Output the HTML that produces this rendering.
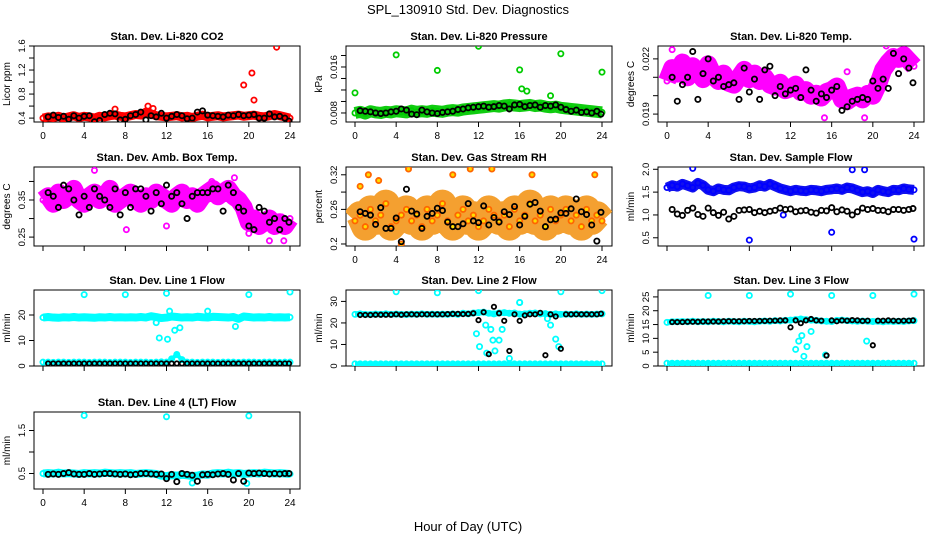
<!DOCTYPE html>
<html><head><meta charset="utf-8">
<style>
body{margin:0;background:#fff;width:936px;height:540px;overflow:hidden;font-family:"Liberation Sans",sans-serif}
svg text{font-family:"Liberation Sans",sans-serif}
</style></head>
<body>
<svg id="c" width="936" height="540" xmlns="http://www.w3.org/2000/svg">
<text x="468" y="14" text-anchor="middle" font-size="13">SPL_130910  Std. Dev. Diagnostics</text>
<text x="468" y="531" text-anchor="middle" font-size="13">Hour of Day (UTC)</text>
</svg>
<script>
const hours = [0,0.5,1,1.5,2,2.5,3,3.5,4,4.5,5,5.5,6,6.5,7,7.5,8,8.5,9,9.5,10,10.5,11,11.5,12,12.5,13,13.5,14,14.5,15,15.5,16,16.5,17,17.5,18,18.5,19,19.5,20,20.5,21,21.5,22,22.5,23,23.5,24];
const blackHours = [0.5,1,1.5,2,2.5,3,3.5,4,4.5,5,5.5,6,6.5,7,7.5,8,8.5,9,9.5,10,10.5,11,11.5,12,12.5,13,13.5,14,14.5,15,15.5,16,16.5,17,17.5,18,18.5,19,19.5,20,20.5,21,21.5,22,22.5,23,23.5,23.9];
const xTicks = [0,4,8,12,16,20,24];

const co2Vals = [0.40,0.42,0.41,0.43,0.40,0.42,0.44,0.41,0.43,0.42,0.40,0.43,0.42,0.44,0.45,0.43,0.42,0.44,0.46,0.45,0.50,0.47,0.44,0.43,0.42,0.43,0.44,0.42,0.43,0.41,0.43,0.45,0.42,0.43,0.44,0.42,0.43,0.44,0.45,0.43,0.44,0.45,0.43,0.42,0.44,0.46,0.44,0.42,0.40];
const co2Black = [0.42,0.45,0.41,0.43,0.38,0.44,0.40,0.43,0.44,0.34,0.36,0.46,0.48,0.47,0.37,0.38,0.44,0.46,0.50,0.37,0.44,0.42,0.48,0.40,0.43,0.46,0.44,0.39,0.40,0.50,0.52,0.45,0.44,0.43,0.42,0.45,0.44,0.46,0.44,0.45,0.46,0.40,0.40,0.47,0.42,0.43,0.40,0.35];
const co2OutH = [7,10.2,10.7,19.5,20.3,20.5,22.7];
const co2OutV = [0.55,0.6,0.56,0.95,1.15,0.7,1.58];

const presVals = [0.0080,0.0082,0.0079,0.0083,0.0081,0.0080,0.0082,0.0081,0.0083,0.0082,0.0081,0.0084,0.0082,0.0083,0.0082,0.0084,0.0083,0.0082,0.0084,0.0085,0.0084,0.0086,0.0087,0.0088,0.0089,0.0090,0.0091,0.0092,0.0091,0.0093,0.0094,0.0093,0.0092,0.0093,0.0094,0.0092,0.0093,0.0091,0.0090,0.0091,0.0089,0.0088,0.0087,0.0086,0.0085,0.0084,0.0083,0.0082,0.0081];
const presBlack = [0.0084,0.0083,0.0082,0.0080,0.0079,0.0080,0.0082,0.0083,0.0087,0.0085,0.0078,0.0077,0.0085,0.0082,0.0080,0.0079,0.0081,0.0082,0.0083,0.0086,0.0087,0.0089,0.0090,0.0091,0.0092,0.0090,0.0091,0.0093,0.0092,0.0087,0.0094,0.0095,0.0091,0.0093,0.0094,0.0090,0.0093,0.0092,0.0094,0.0090,0.0086,0.0083,0.0085,0.0081,0.0082,0.0080,0.0083,0.0078];
const presOutH = [0,4,8,12,16,16.2,16.7,19,20,24];
const presOutV = [0.0115,0.0181,0.0154,0.0196,0.0155,0.0122,0.0118,0.0110,0.0183,0.0151];

const tempVals = [0.0208,0.0215,0.0212,0.0218,0.0210,0.0216,0.0213,0.0209,0.0217,0.0211,0.0208,0.0212,0.0207,0.0206,0.0210,0.0214,0.0209,0.0212,0.0208,0.0210,0.0206,0.0205,0.0207,0.0203,0.0204,0.0206,0.0202,0.0203,0.0200,0.0201,0.0199,0.0202,0.0203,0.0205,0.0198,0.0197,0.0199,0.0200,0.0198,0.0201,0.0200,0.0206,0.0214,0.0218,0.0221,0.0220,0.0222,0.0219,0.0216];
const tempBlack = [0.0210,0.0197,0.0206,0.0210,0.0224,0.0198,0.0212,0.0220,0.0208,0.0210,0.0205,0.0206,0.0207,0.0198,0.0215,0.0202,0.0209,0.0198,0.0214,0.0216,0.0200,0.0205,0.0201,0.0203,0.0204,0.0199,0.0214,0.0203,0.0197,0.0201,0.0199,0.0203,0.0205,0.0192,0.0194,0.0197,0.0198,0.0199,0.0198,0.0208,0.0204,0.0209,0.0204,0.0223,0.0212,0.0220,0.0215,0.0207];
const tempOutH = [0.5,15.3,19.2,21.3,17.5];
const tempOutV = [0.0225,0.0188,0.0188,0.0227,0.0213];

const ambVals = [0.35,0.36,0.34,0.37,0.35,0.36,0.38,0.35,0.34,0.36,0.37,0.35,0.36,0.38,0.34,0.35,0.36,0.37,0.35,0.34,0.36,0.35,0.37,0.36,0.35,0.34,0.36,0.37,0.35,0.36,0.34,0.36,0.37,0.38,0.36,0.37,0.38,0.36,0.35,0.33,0.29,0.30,0.28,0.29,0.30,0.28,0.29,0.28,0.30];
const ambBlack = [0.37,0.36,0.33,0.39,0.38,0.35,0.31,0.36,0.33,0.38,0.36,0.35,0.33,0.38,0.31,0.37,0.33,0.38,0.38,0.36,0.32,0.37,0.34,0.39,0.36,0.37,0.34,0.30,0.36,0.37,0.37,0.37,0.38,0.38,0.32,0.39,0.37,0.33,0.32,0.28,0.27,0.33,0.32,0.29,0.30,0.27,0.30,0.29];
const ambOutH = [5,8.1,12,18.6,16.4,20,22,23.4];
const ambOutV = [0.43,0.27,0.28,0.41,0.40,0.26,0.24,0.24];

const rhVals = [0.24,0.25,0.23,0.26,0.24,0.25,0.27,0.23,0.24,0.25,0.26,0.24,0.25,0.23,0.26,0.24,0.25,0.27,0.24,0.23,0.25,0.26,0.24,0.25,0.23,0.24,0.26,0.25,0.24,0.25,0.23,0.26,0.24,0.25,0.27,0.24,0.25,0.23,0.26,0.24,0.25,0.26,0.24,0.25,0.23,0.26,0.24,0.25,0.24];
const rhBlack = [0.256,0.253,0.250,0.234,0.263,0.227,0.227,0.245,0.204,0.295,0.257,0.252,0.227,0.248,0.253,0.262,0.258,0.238,0.23,0.23,0.235,0.270,0.240,0.237,0.266,0.233,0.246,0.238,0.256,0.251,0.265,0.233,0.248,0.269,0.272,0.257,0.23,0.242,0.243,0.254,0.253,0.261,0.278,0.256,0.251,0.233,0.205,0.255];
const rhOutH = [0.5,1.3,2.3,4.5,5.2,9.5,11.2,13.3,17.2,23.3];
const rhOutV = [0.30,0.32,0.31,0.20,0.33,0.32,0.33,0.33,0.32,0.32];

const sfVals = [1.60,1.65,1.62,1.68,1.64,1.60,1.70,1.65,1.55,1.52,1.58,1.55,1.54,1.60,1.63,1.62,1.58,1.60,1.65,1.62,1.68,1.63,1.58,1.55,1.52,1.55,1.53,1.52,1.55,1.54,1.52,1.55,1.56,1.58,1.55,1.60,1.58,1.54,1.50,1.52,1.48,1.55,1.52,1.50,1.55,1.54,1.58,1.56,1.55];
const sfBlack = [1.12,1.02,0.99,1.10,1.15,1.01,0.97,1.15,1.05,0.99,1.06,0.91,0.97,1.10,1.11,1.12,1.05,1.08,1.05,1.08,1.10,1.15,1.12,1.13,1.07,1.09,1.10,1.06,1.04,1.10,1.09,1.16,1.07,1.11,1.08,1.00,1.07,1.15,1.12,1.14,1.10,1.10,1.07,1.12,1.12,1.10,1.12,1.14];
const sfOutH = [2.5,8,11.3,16,18,19.2,24];
const sfOutV = [2.02,0.45,1.00,0.62,1.99,1.99,0.47];

const l1Vals = [19,19.2,19,18.9,19.1,19,19.2,19,19.1,19,18.9,19.1,19,19.2,19,19.1,19,19.1,19,19.2,19,19.5,19.2,18.8,19,19.4,19.2,19,19.1,19,19.3,19.1,19,19.3,19.2,19.1,19,19.2,18.5,19.4,19.2,19,19.1,19,19.2,19,19.1,19,19.1];
const l1Low = [1.5,1.5,1.4,1.5,1.5,1.4,1.5,1.5,1.5,1.4,1.5,1.5,1.5,1.4,1.5,1.5,1.5,1.4,1.5,1.5,1.5,1.4,1.5,1.6,1.5,2.8,4.5,2.5,1.5,1.5,1.4,1.5,1.5,1.5,1.4,1.5,1.5,1.5,1.4,1.5,1.5,1.5,1.4,1.5,1.5,1.5,1.4,1.5,1.5];
const l1Black = [1,1,1,1,1,1,1,1,1,1,1,1,1,1,1,1,1,1,1,1,1,1,1,1,1,1,1,1,1,1,1,1,1,1,1,1,1,1,1,1,1,1,1,1,1,1,1,1];
const l1OutH = [4,8,12,20,24,11.3,12.1,12.3,11,13.3,12.8,18.7,16];
const l1OutV = [28,28,28.5,28,29,11,10.5,21.5,17,15,14,15.5,21.5];

const l2Vals = [24,24.2,24,23.9,24.1,24,24.2,24,24.1,24,23.9,24.1,24,24.2,24,24.1,24,24.1,24,24.2,24,24.5,24.2,24.6,24.8,25,24.5,24.2,24.6,24.8,24.5,24.6,24.1,24.2,24.5,24.6,24.2,24.3,24,24.2,24,24.1,24,24.2,24,24.1,24,24.1,24.2];
const l2Low = [1,1,1,1,1,1,1,1,1,1,1,1,1,1,1,1,1,1,1,1,1,1,1,1,1,1,1,1,1,1,1,1,1,1,1,1,1,1,1,1,1,1,1,1,1,1,1,1,1];
const l2Black = [23.7,23.7,23.7,23.8,23.8,23.8,23.8,24,23.8,24,24,23.9,24,24,24,24,24,24.1,24.2,24.2,24.1,24.2,24.5,21.3,25,5.5,27.5,24.5,21,7,24,21,23.5,24,24,24.7,5,24,23,8,24,24,24,24,24,24,24,24.3];
const l2OutH = [4,8,12,16,20,24,11.8,12.7,13.2,13.4,13.6,14,14.3,12.1,12.8,15,16,18.7,19,19.5,19.8];
const l2OutV = [34.5,34,35,29.5,34.5,35,15,19,17,12,7,12,17,9,6,3.5,29.5,22,19,12.5,9];

const l3Vals = [15.8,16,16,16.1,16,16.2,16,16.1,16,16.2,16.1,16,16.2,16.1,16,16.2,16.1,16,16.2,16.3,16.2,16.4,16.3,16.5,16.6,16.8,17,16.8,16.6,16.5,16.3,16.2,16.1,16.5,16.6,16.4,16.3,16.2,16.3,16.2,16.1,16.2,16,16.2,16.1,16.2,16.1,16.3,16.4];
const l3Low = [1,1,1,1,1,1,1,1,1,1,1,1,1,1,1,1,1,1,1,1,1,1,1,1,1,1,1,1,1,1,1,1,1,1,1,1,1,1,1,1,1,1,1,1,1,1,1,1,1];
const l3Black = [15.9,15.9,15.9,16,16,16,16.1,16.1,16.1,16.1,16.2,16.2,16.2,16.2,16.2,16.3,16.3,16.3,16.3,16.4,16.4,16.5,16.5,14,16.5,15.5,16.5,17,16.5,16.4,3.8,16.5,16.2,16.5,16.4,16.6,16.5,16.3,16.4,7.5,16.4,16.4,16.5,16.4,16.3,16.4,16.4,16.5];
const l3OutH = [4,8,12,16,20,24,12.5,12.8,13.1,13.3,13.6,14,15.4,19.4];
const l3OutV = [25.5,25.5,26,25.5,25.5,26,6,9,11,3.5,7,12.5,4,9];

const l4Vals = [0.50,0.51,0.50,0.52,0.50,0.51,0.50,0.49,0.51,0.50,0.51,0.50,0.52,0.51,0.50,0.51,0.50,0.51,0.49,0.50,0.51,0.50,0.49,0.45,0.44,0.46,0.45,0.47,0.46,0.44,0.45,0.48,0.47,0.50,0.51,0.50,0.52,0.50,0.51,0.49,0.50,0.51,0.50,0.52,0.51,0.50,0.51,0.50,0.49];
const l4Black = [0.48,0.49,0.48,0.50,0.52,0.49,0.48,0.48,0.50,0.48,0.49,0.50,0.50,0.49,0.48,0.49,0.47,0.48,0.50,0.50,0.49,0.48,0.49,0.38,0.48,0.31,0.50,0.48,0.46,0.32,0.47,0.48,0.47,0.49,0.50,0.48,0.35,0.50,0.32,0.51,0.50,0.51,0.50,0.49,0.50,0.49,0.50,0.50];
const l4OutH = [4,12,20,14.5,19.8];
const l4OutV = [1.85,1.82,1.84,0.28,0.27];

const svg = document.getElementById('c');
const NS = 'http://www.w3.org/2000/svg';
function mk(tag, attrs, parent){
  const e = document.createElementNS(NS, tag);
  for (const k in attrs) e.setAttribute(k, attrs[k]);
  (parent||svg).appendChild(e);
  return e;
}

function panel(cfg){
  const g = mk('g', {});
  
  
  const x0 = cfg.x0, x1 = x0 + 266, yt = cfg.yt, yb = cfg.yb;
  const xs = h => x0 + 9 + h * (247 / 24);
  const ys = v => yb - (v - cfg.ymin) / (cfg.ymax - cfg.ymin) * (yb - yt);
  const box = mk('rect', {x: x0, y: yt, width: x1 - x0, height: yb - yt, fill: 'none', stroke: '#000', 'stroke-width': 1}, g);
  
  
  const t = mk('text', {x: (x0 + x1) / 2, y: yt - 6, 'text-anchor': 'middle', 'font-size': 11, 'font-weight': 'bold'}, g);
  t.textContent = cfg.title;
  
  
  xTicks.forEach(h => {
    mk('line', {x1: xs(h), x2: xs(h), y1: yb, y2: yb + 5, stroke: '#000'}, g);
    if (cfg.xlabels) {
      const l = mk('text', {x: xs(h), y: yb + 17, 'text-anchor': 'middle', 'font-size': 10}, g);
      l.textContent = h;
      
      
    }
  });
  cfg.yticks.forEach(v => {
    mk('line', {x1: x0, x2: x0 - 5, y1: ys(v), y2: ys(v), stroke: '#000'}, g);
  });
  cfg.ylabels.forEach(v => {
    const l = mk('text', {x: x0 - 9, y: ys(v), 'text-anchor': 'middle', 'font-size': 9.5, transform: `rotate(-90 ${x0 - 9} ${ys(v)})`}, g);
    l.textContent = v;
    
    
  });
  const yl = mk('text', {x: x0 - 24, y: (yt + yb) / 2, 'text-anchor': 'middle', 'font-size': 10, transform: `rotate(-90 ${x0 - 24} ${(yt + yb) / 2})`}, g);
  yl.textContent = cfg.ylab;
  
  
  const clip = 'clip-' + cfg.name;
  const cp = mk('clipPath', {id: clip}, g);
  mk('rect', {x: x0, y: yt, width: x1 - x0, height: yb - yt}, cp);
  const pg = mk('g', {'clip-path': `url(#${clip})`}, g);
  function band(vals, color, w){
    const pts = hours.map((h, i) => xs(h) + ',' + ys(vals[i])).join(' ');
    const pl = mk('polyline', {points: pts, fill: 'none', stroke: color, 'stroke-width': w, 'stroke-linejoin': 'round', 'stroke-linecap': 'butt'}, pg);
    
    
  }
  function pts(hs, vals, color, fill, r){
    vals.forEach((v, i) => {
      const c = mk('circle', {cx: xs(hs[i]), cy: ys(v), r: r, fill: fill, stroke: color, 'stroke-width': 1.8}, pg);
      
      
    });
  }
  cfg.series.forEach(s => {
    if (s.band) band(s.vals, s.band, s.bw);
    pts(s.hours, s.vals, s.color, s.fill || 'none', s.r || 2.6);
  });
}

const C = [34, 346, 658];
const R = [[46,122],[167,246],[290,366],[412,489]];

panel({name:'co2', title:'Stan. Dev. Li-820 CO2', x0:C[0], yt:R[0][0], yb:R[0][1], ymin:0.335, ymax:1.6, yticks:[0.4,0.6,0.8,1.0,1.2,1.4,1.6], ylabels:[0.4,0.8,1.2,1.6], ylab:'Licor ppm', xlabels:true,
  series:[{hours:hours, vals:co2Vals, color:'#f00', band:'#f00', bw:9},{hours:co2OutH, vals:co2OutV, color:'#f00'},{hours:blackHours, vals:co2Black, color:'#000'}]});
panel({name:'pressure', title:'Stan. Dev. Li-820 Pressure', x0:C[1], yt:R[0][0], yb:R[0][1], ymin:0.00643, ymax:0.01965, yticks:[0.008,0.010,0.012,0.014,0.016,0.018], ylabels:[0.008,0.016], ylab:'kPa', xlabels:true,
  series:[{hours:hours, vals:presVals, color:'#0c0', band:'#1c1', bw:12},{hours:presOutH, vals:presOutV, color:'#0c0'},{hours:blackHours, vals:presBlack, color:'#000'}]});
panel({name:'li820-temp', title:'Stan. Dev. Li-820 Temp.', x0:C[2], yt:R[0][0], yb:R[0][1], ymin:0.01857, ymax:0.0227, yticks:[0.019,0.020,0.021,0.022], ylabels:[0.019,0.022], ylab:'degrees C', xlabels:true,
  series:[{hours:hours, vals:tempVals, color:'#f0f', band:'#f0f', bw:18},{hours:tempOutH, vals:tempOutV, color:'#f0f'},{hours:blackHours, vals:tempBlack, color:'#000'}]});
panel({name:'amb-box-temp', title:'Stan. Dev. Amb. Box Temp.', x0:C[0], yt:R[1][0], yb:R[1][1], ymin:0.226, ymax:0.439, yticks:[0.25,0.30,0.35,0.40], ylabels:[0.25,0.35], ylab:'degrees C', xlabels:false,
  series:[{hours:hours, vals:ambVals, color:'#f0f', band:'#f0f', bw:18},{hours:ambOutH, vals:ambOutV, color:'#f0f'},{hours:blackHours, vals:ambBlack, color:'#000'}]});
panel({name:'gas-rh', title:'Stan. Dev. Gas Stream RH', x0:C[1], yt:R[1][0], yb:R[1][1], ymin:0.1965, ymax:0.3335, yticks:[0.20,0.23,0.26,0.29,0.32], ylabels:[0.20,0.26,0.32], ylab:'percent', xlabels:true,
  series:[{hours:hours, vals:rhVals, color:'#f60', fill:'#fd0', band:'#f4a030', bw:28},{hours:rhOutH, vals:rhOutV, color:'#f60', fill:'#fd0'},{hours:blackHours, vals:rhBlack, color:'#000'}]});
panel({name:'sample-flow', title:'Stan. Dev. Sample Flow', x0:C[2], yt:R[1][0], yb:R[1][1], ymin:0.32, ymax:2.05, yticks:[0.5,1.0,1.5,2.0], ylabels:['0.5','1.0','1.5','2.0'], ylab:'ml/min', xlabels:false,
  series:[{hours:hours, vals:sfVals, color:'#00f', band:'#11e', bw:10},{hours:sfOutH, vals:sfOutV, color:'#00f'},{hours:blackHours, vals:sfBlack, color:'#000'}]});
panel({name:'line1-flow', title:'Stan. Dev. Line 1 Flow', x0:C[0], yt:R[2][0], yb:R[2][1], ymin:0, ymax:29.8, yticks:[0,10,20], ylabels:[0,10,20], ylab:'ml/min', xlabels:false,
  series:[{hours:hours, vals:l1Vals, color:'#0ff', band:'#0ff', bw:8},{hours:hours, vals:l1Low, color:'#0ff', band:'#0ff', bw:4},{hours:l1OutH, vals:l1OutV, color:'#0ff'},{hours:blackHours, vals:l1Black, color:'#000', r:2.2}]});
panel({name:'line2-flow', title:'Stan. Dev. Line 2 Flow', x0:C[1], yt:R[2][0], yb:R[2][1], ymin:0, ymax:35.3, yticks:[0,10,20,30], ylabels:[0,10,20,30], ylab:'ml/min', xlabels:false,
  series:[{hours:hours, vals:l2Vals, color:'#0ff', band:'#0ff', bw:6},{hours:hours, vals:l2Low, color:'#0ff', band:'#0ff', bw:4},{hours:l2OutH, vals:l2OutV, color:'#0ff'},{hours:blackHours, vals:l2Black, color:'#000', r:2.2}]});
panel({name:'line3-flow', title:'Stan. Dev. Line 3 Flow', x0:C[2], yt:R[2][0], yb:R[2][1], ymin:0, ymax:27.5, yticks:[0,5,10,15,20,25], ylabels:[0,5,10,15,20,25], ylab:'ml/min', xlabels:false,
  series:[{hours:hours, vals:l3Vals, color:'#0ff', band:'#0ff', bw:6},{hours:hours, vals:l3Low, color:'#0ff', band:'#0ff', bw:4},{hours:l3OutH, vals:l3OutV, color:'#0ff'},{hours:blackHours, vals:l3Black, color:'#000', r:2.2}]});
panel({name:'line4-flow', title:'Stan. Dev. Line 4 (LT) Flow', x0:C[0], yt:R[3][0], yb:R[3][1], ymin:0.14, ymax:1.93, yticks:[0.5,1.0,1.5], ylabels:[0.5,1.5], ylab:'ml/min', xlabels:true,
  series:[{hours:hours, vals:l4Vals, color:'#0ff', band:'#0ff', bw:8},{hours:l4OutH, vals:l4OutV, color:'#0ff'},{hours:blackHours, vals:l4Black, color:'#000'}]});
</script>
</body></html>
